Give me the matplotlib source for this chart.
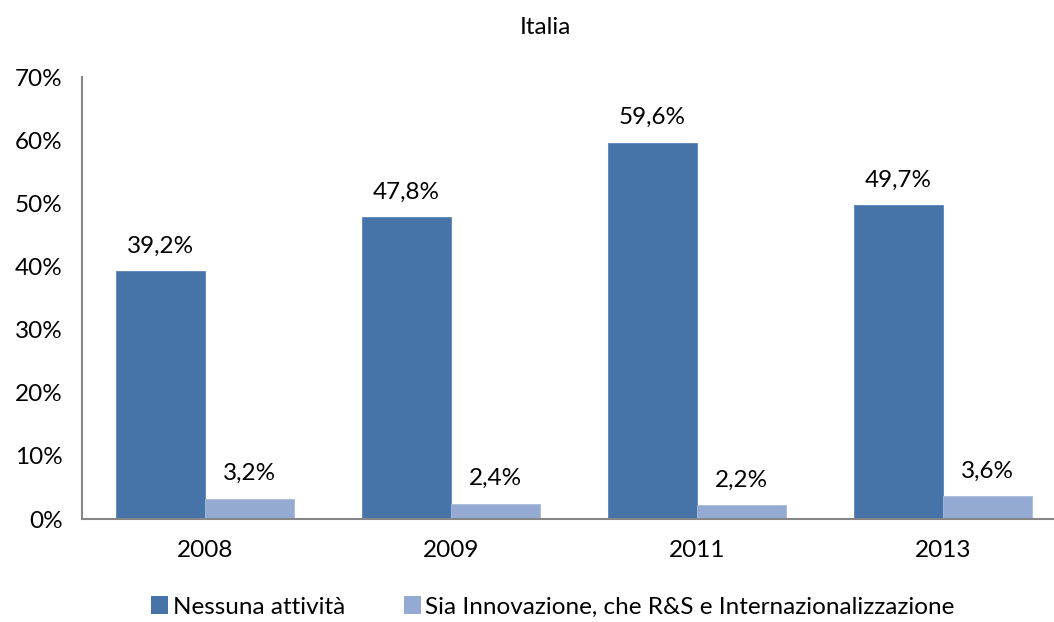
import matplotlib
matplotlib.use("Agg")
import matplotlib.pyplot as plt
import numpy as np
from matplotlib.patches import Patch

plt.rcParams["font.family"] = ["Lato", "DejaVu Sans"]

years = ["2008", "2009", "2011", "2013"]
nessuna = [39.2, 47.8, 59.6, 49.7]
innovazione = [3.2, 2.4, 2.2, 3.6]
series_names = ["Nessuna attività", "Sia Innovazione, che R&S e Internazionalizzazione"]

dark_blue = "#4674A8"
light_blue = "#94AAD2"
axis_grey = "#868686"
FS = 17.5


def fmt(v):
    return f"{v:.1f}".replace(".", ",") + "%"


fig = plt.figure(figsize=(10.54, 6.22), dpi=100)
fig.set_facecolor("white")
ax = fig.add_axes([82 / 1054, 1 - 519 / 622, 984 / 1054, 442 / 622])

x = np.arange(len(years))
w = 0.362
b1 = ax.bar(x - w / 2, nessuna, w, color=dark_blue, edgecolor="#5A85B8", linewidth=0.6)
b2 = ax.bar(x + w / 2, innovazione, w, color=light_blue, edgecolor="#A9BBDD", linewidth=0.6)

for bars, vals in [(b1, nessuna), (b2, innovazione)]:
    for rect, v in zip(bars, vals):
        ax.text(rect.get_x() + rect.get_width() / 2, v + 2.3, fmt(v),
                ha="center", va="bottom", fontsize=FS, color="black")

ax.set_xlim(-0.5, len(years) - 0.5)
ax.set_ylim(0, 70)
ax.set_yticks(range(0, 71, 10))
ax.set_yticklabels([f"{t}%" for t in range(0, 71, 10)])
ax.set_xticks(x)
ax.set_xticklabels(years)
ax.tick_params(axis="both", length=0, labelsize=FS, colors="black")
ax.tick_params(axis="y", pad=14)
ax.tick_params(axis="x", pad=15)

for side in ["top", "right"]:
    ax.spines[side].set_visible(False)
for side in ["left", "bottom"]:
    ax.spines[side].set_color(axis_grey)
    ax.spines[side].set_linewidth(1.5)

fig.text(545 / 1054, 1 - 28 / 622, "Italia", ha="center", va="center", fontsize=FS)

handles = [Patch(facecolor=dark_blue), Patch(facecolor=light_blue)]
fig.legend(handles, series_names, loc="center", bbox_to_anchor=(553 / 1054, 1 - 607 / 622),
           ncol=2, frameon=False, fontsize=FS, handlelength=0.7, handleheight=0.7,
           handletextpad=0.2, columnspacing=2.4)

fig.savefig("out.png", dpi=100, facecolor="white")
